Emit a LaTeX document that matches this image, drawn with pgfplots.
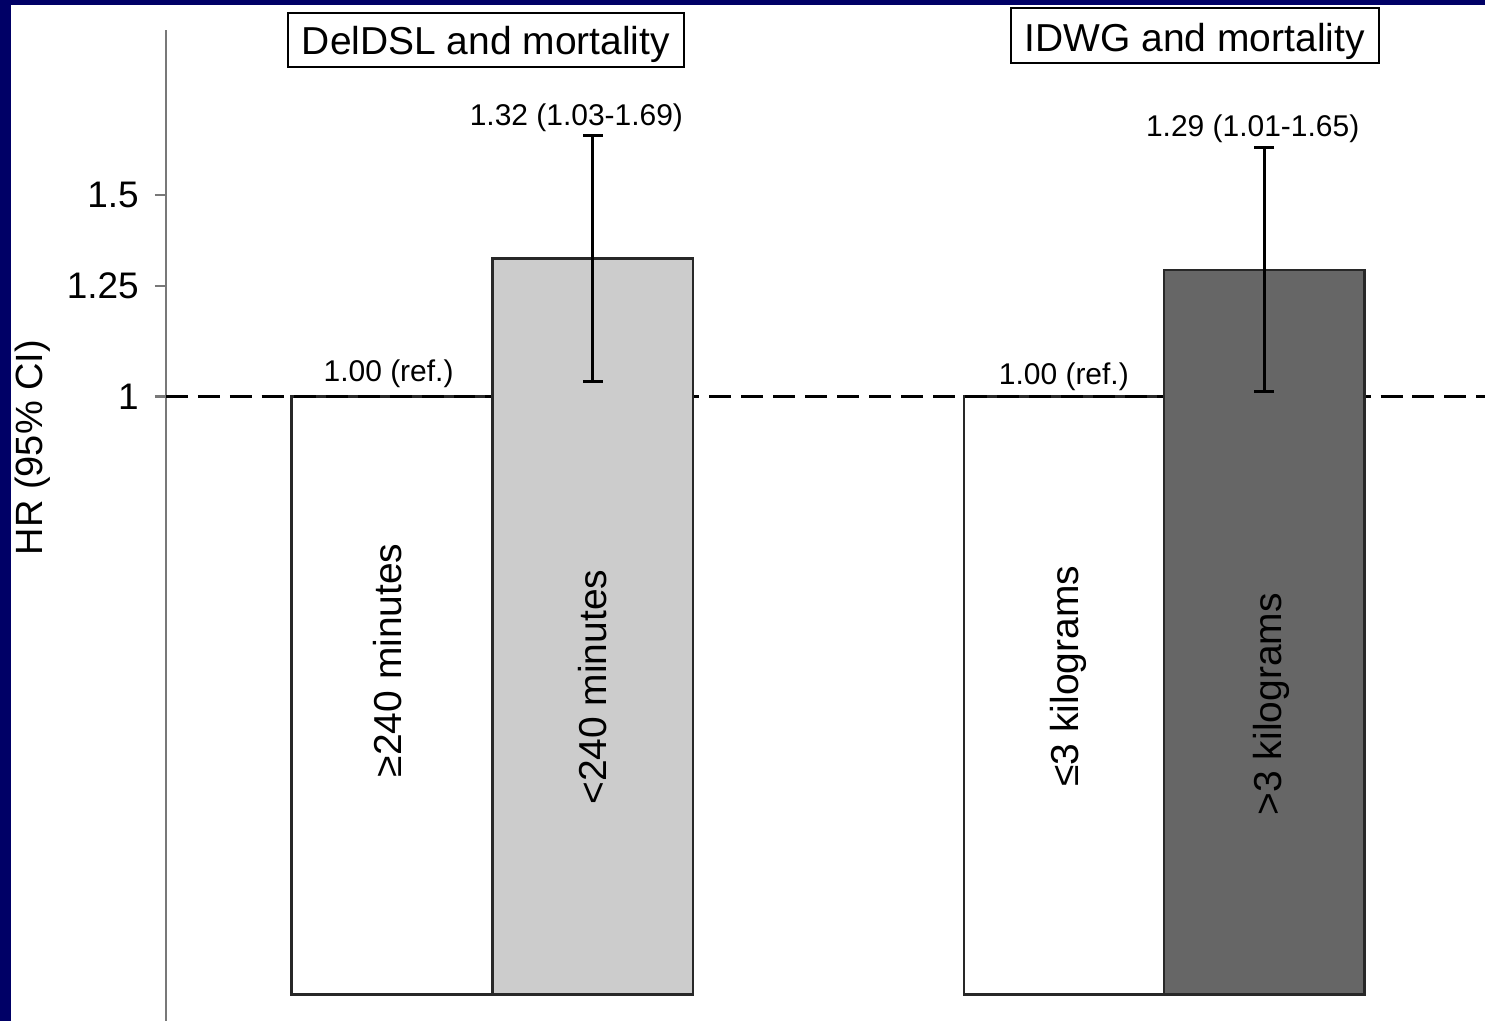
\documentclass[border=0pt]{standalone}
\usepackage{pgfplots}
\pgfplotsset{compat=1.18}
\usepackage{fontspec}
\setmainfont{Liberation Sans}
\definecolor{navyb}{RGB}{0,0,102}
\definecolor{axgray}{RGB}{120,120,120}
\definecolor{lgray}{RGB}{204,204,204}
\definecolor{dgray}{RGB}{102,102,102}
\definecolor{edge}{RGB}{40,40,40}
\begin{document}
\begin{tikzpicture}[x=0.5pt,y=0.5pt]
\fill[navyb] (0,0) rectangle (1487,1022);
\fill[white] (11,0) rectangle (1487,1017);
\begin{axis}[
  at={(83pt,0pt)}, anchor=south west,
  scale only axis, width=660.5pt, height=496pt,
  xmin=166, xmax=1487,
  ymode=log, ymin=0.2845, ymax=2.092,
  axis x line=none, axis y line=left,
  axis line style={-, draw=axgray, line width=1.2pt},
  ytick={1,1.25,1.5}, yticklabels={{1},{1.25},{1.5}},
  yminorticks=false,
  tick align=outside, ytick pos=left,
  major tick length=5.5pt,
  tick style={axgray, line width=1.2pt},
  yticklabel style={font=\fontsize{18.5}{22}\selectfont, text=black, anchor=east, xshift=-4.5pt},
  clip=false,
]
% reference bars (white)
\addplot[fill=white, draw=edge, line width=1.2pt] coordinates {(292,0.3) (292,1.00) (493,1.00) (493,0.3)} -- cycle;
\addplot[fill=white, draw=edge, line width=1.2pt] coordinates {(965,0.3) (965,1.00) (1165,1.00) (1165,0.3)} -- cycle;
% HR = 1 dashed reference line
\addplot[black, line width=1.6pt, dash pattern=on 11pt off 5pt] coordinates {(166,1) (1487,1)};
% comparison bars
\addplot[fill=lgray, draw=edge, line width=1.2pt] coordinates {(493,0.3) (493,1.32) (694,1.32) (694,0.3)} -- cycle;
\addplot[fill=dgray, draw=edge, line width=1.2pt] coordinates {(1165,0.3) (1165,1.29) (1366,1.29) (1366,0.3)} -- cycle;
% 95% CI
\addplot[black, line width=1.5pt, mark=-, mark size=5pt, mark options={solid, line width=1.5pt}] coordinates {(593.5,1.03) (593.5,1.69)};
\addplot[black, line width=1.5pt, mark=-, mark size=5pt, mark options={solid, line width=1.5pt}] coordinates {(1265.5,1.01) (1265.5,1.65)};
\end{axis}
% y label
\node[rotate=90, anchor=base, inner sep=0pt, font=\fontsize{19}{22}\selectfont] at (43,574) {HR (95\% CI)};
% panel titles
\node[draw=black, line width=1pt, anchor=base, inner xsep=0pt, inner ysep=0pt, text height=21pt, text depth=6pt, minimum width=198.5pt, font=\fontsize{19.5}{22}\selectfont] at (486.5,967) {DelDSL and mortality};
\node[draw=black, line width=1pt, anchor=base, inner xsep=0pt, inner ysep=0pt, text height=22pt, text depth=5.5pt, minimum width=184pt, font=\fontsize{19.5}{22}\selectfont] at (1196,970) {IDWG and mortality};
% value labels
\node[anchor=base, inner sep=0pt, font=\fontsize{15}{18}\selectfont] at (389,640) {1.00 (ref.)};
\node[anchor=base, inner sep=0pt, font=\fontsize{15}{18}\selectfont] at (1065,637) {1.00 (ref.)};
\node[anchor=base, inner sep=0pt, font=\fontsize{15}{18}\selectfont] at (577,896) {1.32 (1.03-1.69)};
\node[anchor=base, inner sep=0pt, font=\fontsize{15}{18}\selectfont] at (1254,885) {1.29 (1.01-1.65)};
% category labels inside bars
\node[rotate=90, anchor=base, inner sep=0pt, font=\fontsize{19.5}{22}\selectfont] at (402,361) {≥240 minutes};
\node[rotate=90, anchor=base, inner sep=0pt, font=\fontsize{19.5}{22}\selectfont] at (607,334) {<240 minutes};
\node[rotate=90, anchor=base, inner sep=0pt, font=\fontsize{19.5}{22}\selectfont] at (1080,345) {≤3 kilograms};
\node[rotate=90, anchor=base, inner sep=0pt, font=\fontsize{19.5}{22}\selectfont] at (1283,317) {>3 kilograms};
\end{tikzpicture}
\end{document}
